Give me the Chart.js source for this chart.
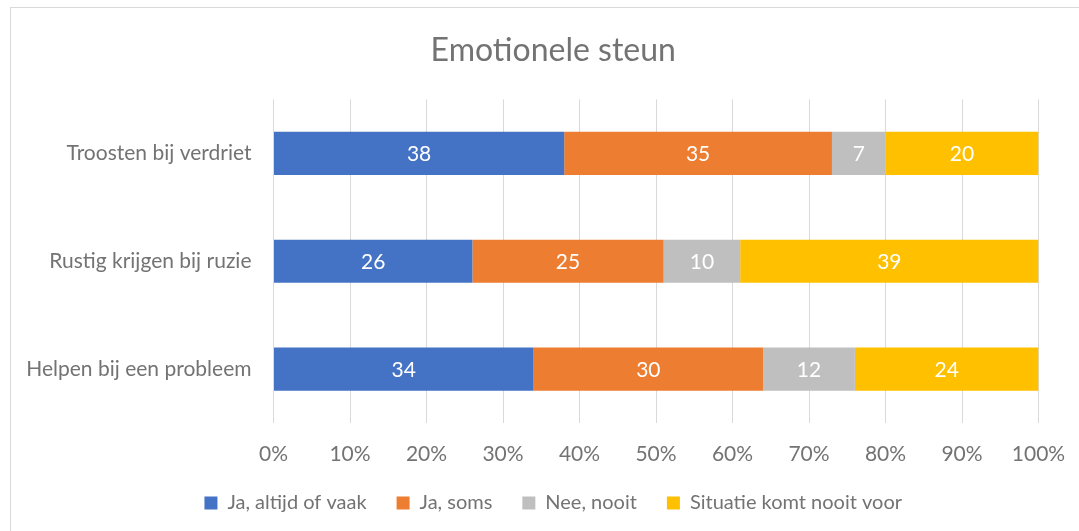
<!DOCTYPE html>
<html>
<head>
<meta charset="utf-8">
<script src="https://cdn.jsdelivr.net/npm/chart.js@4.4.1/dist/chart.umd.min.js"></script>
<style>
  html, body { margin: 0; padding: 0; background: #fff; }
  #wrap { position: relative; width: 1079px; height: 531px; overflow: hidden; }
  #frame { position: absolute; left: 10px; top: 7px; width: 1100px; height: 600px; border: 1px solid #d9d9d9; box-sizing: border-box; }
  canvas { position: absolute; left: 0; top: 0; }
</style>
</head>
<body>
<div id="wrap">
  <div id="frame"></div>
  <canvas id="c" width="1079" height="531"></canvas>
</div>
<script>
const categories = ["Troosten bij verdriet", "Rustig krijgen bij ruzie", "Helpen bij een probleem"];
const seriesNames = ["Ja, altijd of vaak", "Ja, soms", "Nee, nooit", "Situatie komt nooit voor"];
const altijdOfVaak = [38, 26, 34];
const soms = [35, 25, 30];
const nooit = [7, 10, 12];
const komtNietVoor = [20, 39, 24];
const tickValues = [0, 10, 20, 30, 40, 50, 60, 70, 80, 90, 100];
const colors = ["#4472C4", "#ED7D31", "#BFBFBF", "#FFC000"];

const FONT = "Lato, 'Open Sans', sans-serif";
const TXT = "#737373";
const PAD_LEFT = 12;
const SHIFT = 28; // centre title and legend like the reference

const labelPlugin = {
  id: "barLabels",
  afterDatasetsDraw(chart) {
    const ctx = chart.ctx;
    ctx.save();
    ctx.fillStyle = "#ffffff";
    ctx.font = "21px " + FONT;
    ctx.textAlign = "center";
    ctx.textBaseline = "middle";
    chart.data.datasets.forEach((ds, i) => {
      const meta = chart.getDatasetMeta(i);
      meta.data.forEach((el, j) => {
        const p = el.getCenterPoint();
        ctx.fillText(String(ds.data[j]), p.x, p.y + 1);
      });
    });
    ctx.restore();
  }
};

const shiftPlugin = {
  id: "shiftBoxes",
  afterLayout(chart) {
    [chart.titleBlock, chart.legend].forEach(b => {
      if (b) { b.left += SHIFT; b.right += SHIFT; }
    });
  }
};

const allSeries = [altijdOfVaak, soms, nooit, komtNietVoor];

new Chart(document.getElementById("c"), {
  type: "bar",
  data: {
    labels: categories,
    datasets: allSeries.map((d, i) => ({
      label: seriesNames[i],
      data: d,
      backgroundColor: colors[i],
      borderWidth: 0,
      categoryPercentage: 0.8,
      barPercentage: 0.5
    }))
  },
  options: {
    indexAxis: "y",
    responsive: false,
    animation: false,
    layout: { padding: { left: PAD_LEFT, right: 40.5, top: 0, bottom: 8 } },
    plugins: {
      title: {
        display: true,
        text: "Emotionele steun",
        color: TXT,
        font: { family: FONT, size: 32, weight: "normal" },
        padding: { top: 31, bottom: 30 }
      },
      legend: {
        position: "bottom",
        labels: {
          color: TXT,
          font: { family: FONT, size: 20 },
          boxWidth: 13,
          boxHeight: 13,
          padding: 30
        }
      },
      tooltip: { enabled: false }
    },
    scales: {
      x: {
        stacked: true,
        min: 0,
        max: 100,
        afterBuildTicks(scale) { scale.ticks = tickValues.map(v => ({ value: v })); },
        ticks: {
          color: TXT,
          font: { family: FONT, size: 21 },
          padding: 19,
          callback: v => v + "%"
        },
        grid: { color: "#d9d9d9", drawTicks: false },
        border: { display: false },
        afterFit(scale) { scale.height = 40; scale.paddingRight = 0; scale.paddingLeft = 0; }
      },
      y: {
        stacked: true,
        ticks: {
          color: TXT,
          font: { family: FONT, size: 21 },
          padding: 22
        },
        grid: { display: false, drawTicks: false },
        border: { display: false },
        afterFit(scale) { scale.width = 273.5 - PAD_LEFT; }
      }
    }
  },
  plugins: [labelPlugin, shiftPlugin]
});
</script>
</body>
</html>
